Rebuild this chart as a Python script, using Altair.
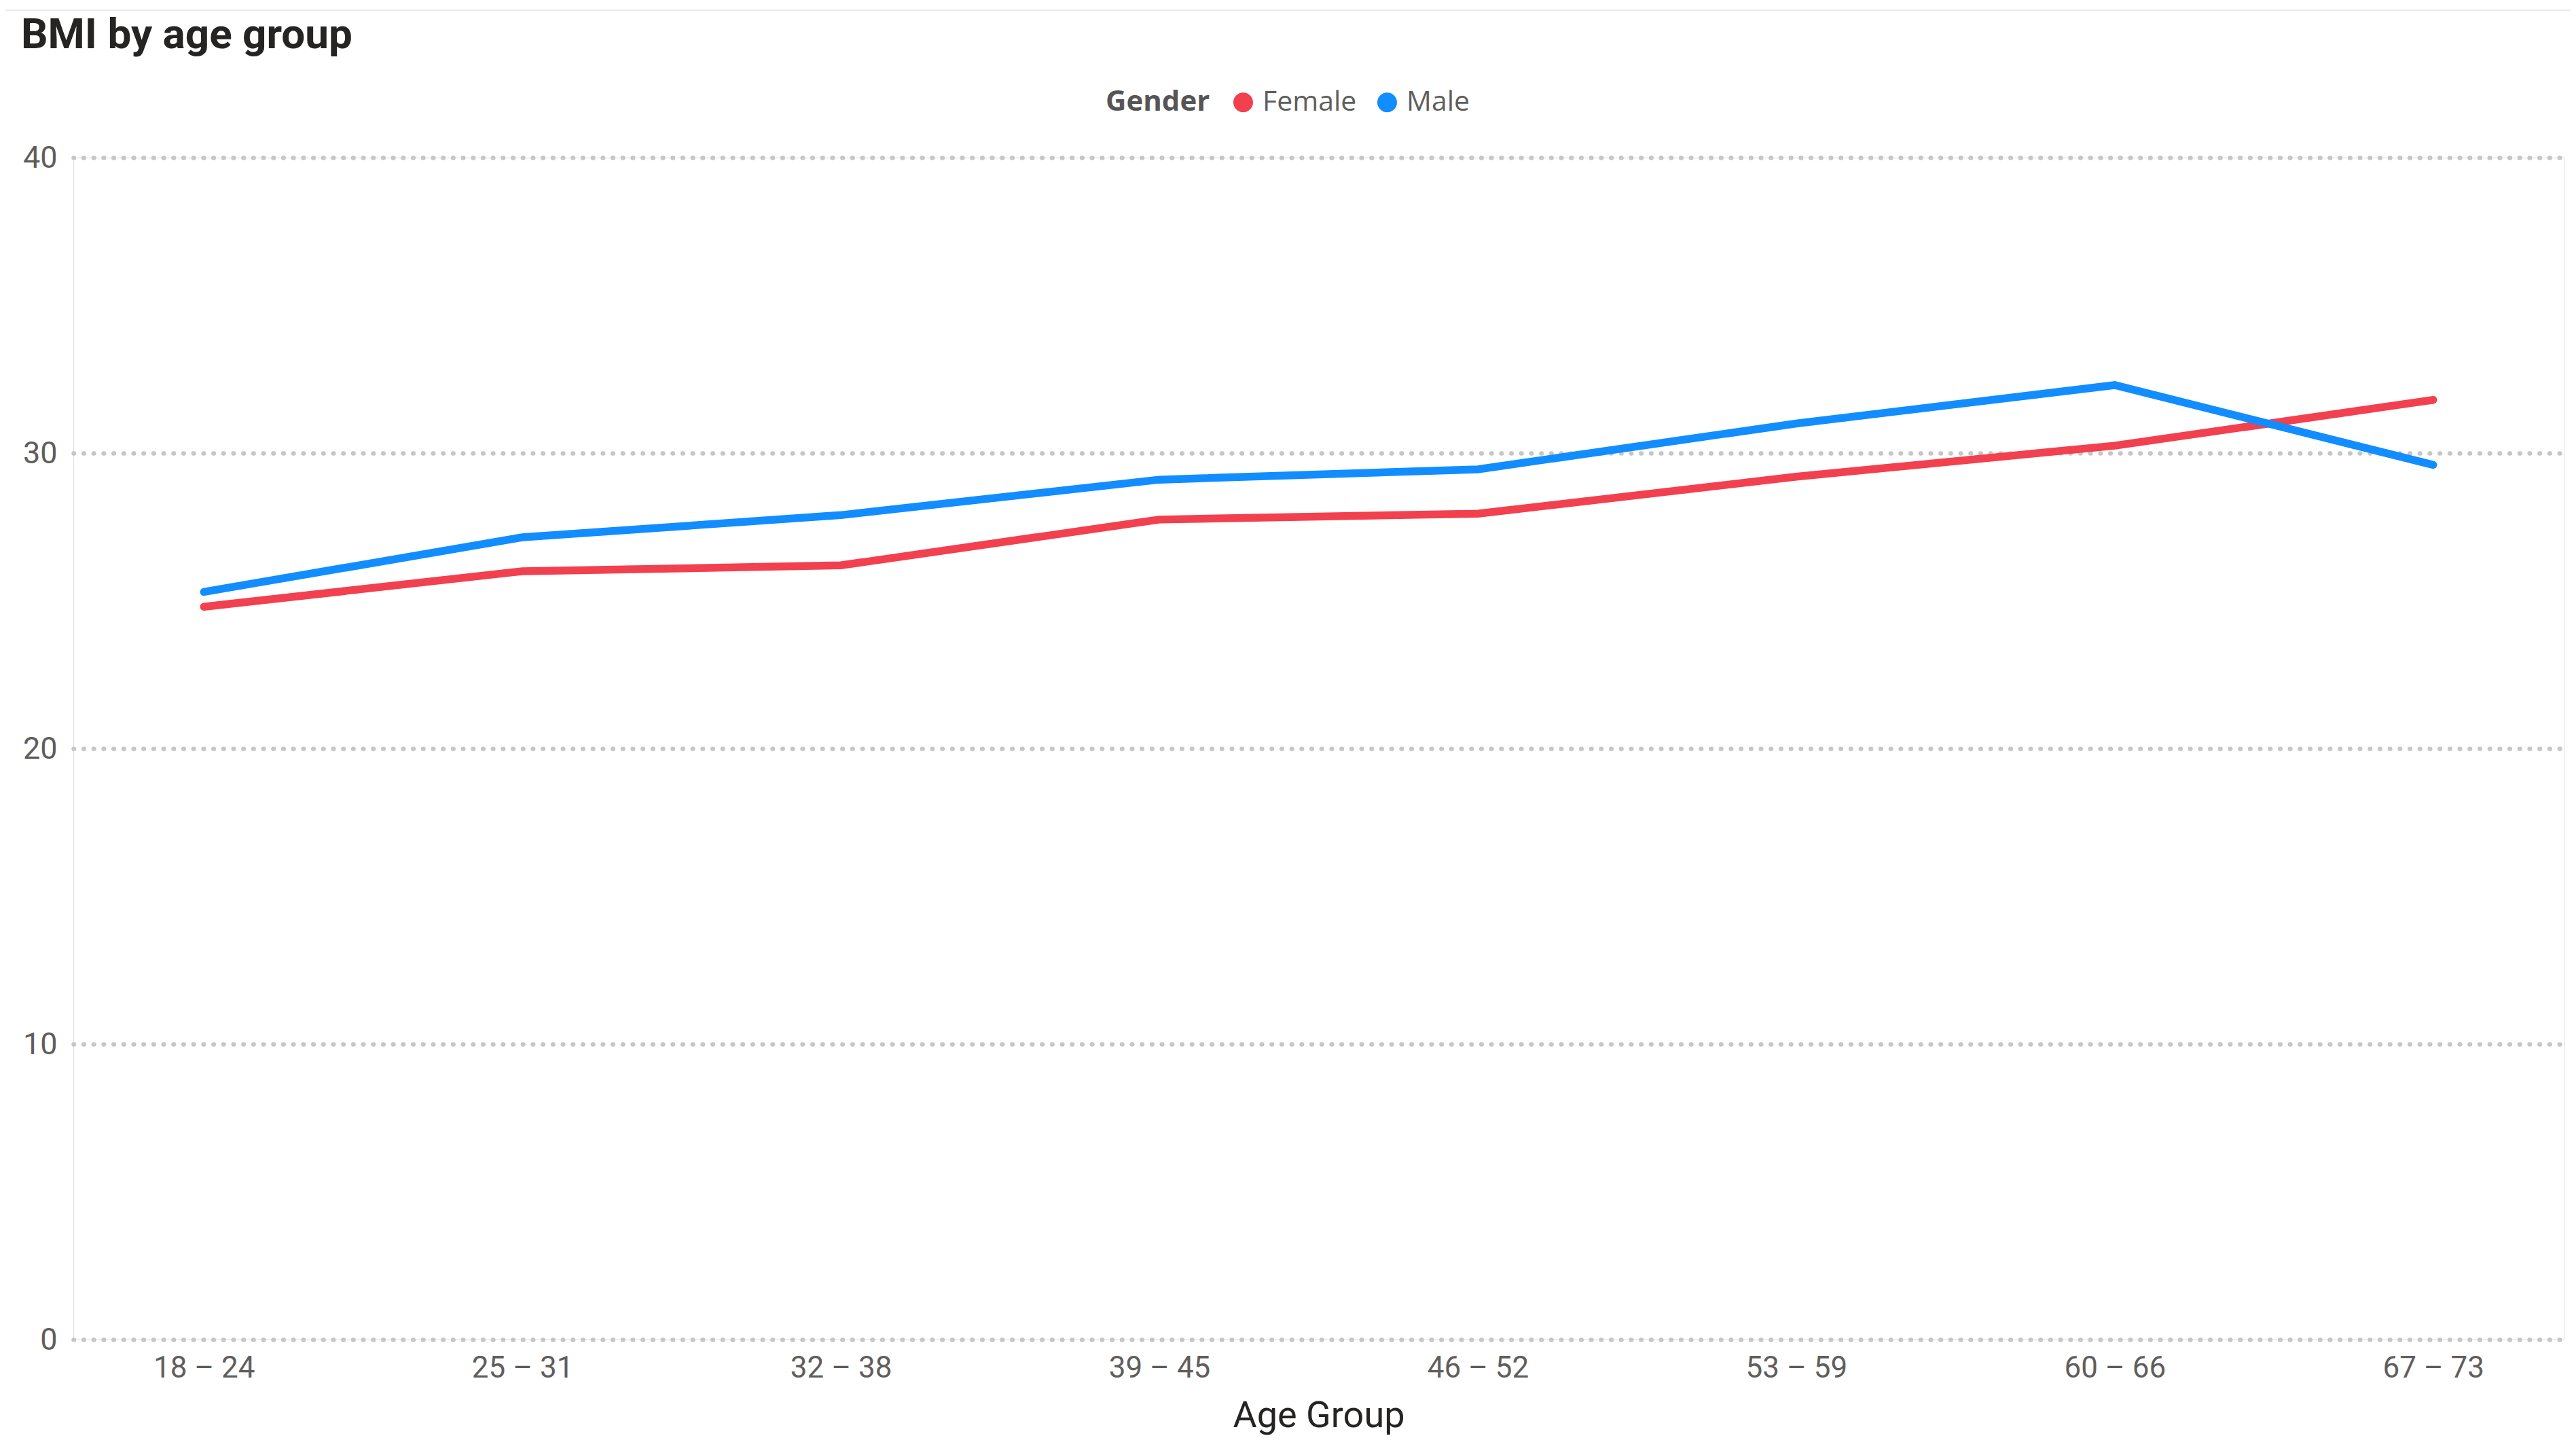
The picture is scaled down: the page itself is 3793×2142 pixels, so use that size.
import altair as alt
import pandas as pd

age_groups = ["18 – 24", "25 – 31", "32 – 38", "39 – 45", "46 – 52", "53 – 59", "60 – 66", "67 – 73"]
female_bmi = [24.8, 26.0, 26.2, 27.75, 27.95, 29.2, 30.25, 31.8]
male_bmi = [25.3, 27.15, 27.9, 29.1, 29.45, 31.0, 32.3, 29.6]
genders = ["Female", "Male"]
colors = ["#F2404F", "#118DFF"]
y_ticks = [0, 10, 20, 30, 40]

rows = []
for g, vals in zip(genders, [female_bmi, male_bmi]):
    for a, v in zip(age_groups, vals):
        rows.append({"Age Group": a, "Gender": g, "BMI": v})
df = pd.DataFrame(rows)

W, H = 3667, 1740
DIN = "Roboto"
SEGOE = "Open Sans"

x_enc = alt.X(
    "Age Group:N",
    sort=age_groups,
    scale=alt.Scale(type="point", padding=0.41),
    axis=alt.Axis(
        title="Age Group",
        labelAngle=0,
        labelFont=DIN,
        labelFontSize=44,
        labelColor="#605E5C",
        labelPadding=20,
        ticks=False,
        domain=False,
        grid=False,
        titleFont=DIN,
        titleFontSize=54,
        titleFontWeight="normal",
        titleColor="#252423",
        titlePadding=21,
    ),
)
y_enc = alt.Y(
    "BMI:Q",
    scale=alt.Scale(domain=[0, 40]),
    axis=alt.Axis(
        title=None,
        values=y_ticks,
        labelFont=DIN,
        labelFontSize=45,
        labelColor="#605E5C",
        labelPadding=24,
        ticks=False,
        domain=False,
        grid=True,
        gridColor="#C6C6C6",
        gridDash=[0.5, 14.2],
        gridCap="round",
        gridWidth=6.5,
    ),
)
color_scale = alt.Scale(domain=genders, range=colors)

lines = alt.Chart(df).mark_line(strokeWidth=11.5, strokeJoin="miter", strokeCap="round").encode(
    x=x_enc,
    y=y_enc,
    color=alt.Color("Gender:N", scale=color_scale, legend=None),
)

legend_pts = alt.Chart(df).mark_point(filled=True, opacity=0, size=1).encode(
    x=alt.X("Age Group:N", sort=age_groups),
    y=alt.Y("BMI:Q"),
    color=alt.Color(
        "Gender:N",
        scale=color_scale,
        legend=alt.Legend(
            title="Gender",
            orient="none",
            legendX=1520,
            legendY=-102,
            direction="horizontal",
            titleOrient="left",
            titleFont=SEGOE,
            titleFontSize=42,
            titleFontWeight="bold",
            titleColor="#555555",
            titlePadding=28,
            labelFont=SEGOE,
            labelFontSize=41,
            labelColor="#605E5C",
            labelOffset=8,
            columnPadding=24,
            symbolType="circle",
            symbolSize=841,
            symbolOpacity=1,
            symbolStrokeWidth=0,
        ),
    ),
)

top_rule = alt.Chart(pd.DataFrame({"v": [0]})).mark_rule(color="#EAEAEA", strokeWidth=2).encode(
    x=alt.value(-100), x2=alt.value(W + 10), y=alt.value(-217)
)

chart = alt.layer(top_rule, lines, legend_pts).resolve_legend(color="independent").properties(
    width=W,
    height=H,
    autosize=alt.AutoSizeParams(type="none"),
    padding={"left": 100, "top": 224, "right": 10, "bottom": 160},
    title=alt.TitleParams(
        "BMI by age group",
        anchor="start",
        frame="group",
        font=DIN,
        fontSize=62,
        fontWeight="bold",
        color="#252423",
        dx=-77,
        offset=0,
        dy=70,
    ),
).configure_view(stroke=None).configure(background="white")

chart.save("out.html", embed_options={"renderer": "svg", "actions": False})
